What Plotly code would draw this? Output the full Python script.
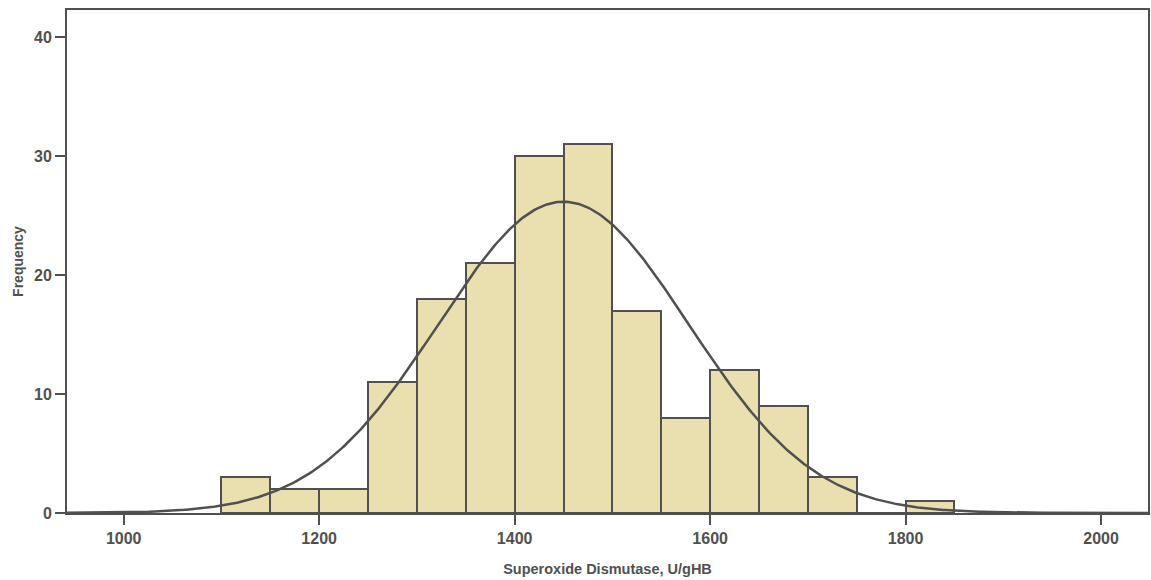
import numpy as np
import plotly.graph_objects as go

# Histogram bins (lower edges, width 50) and observed frequencies
bin_starts = [1100, 1150, 1200, 1250, 1300, 1350, 1400, 1450, 1500,
              1550, 1600, 1650, 1700, 1750, 1800]
counts = [3, 2, 2, 11, 18, 21, 30, 31, 17, 8, 12, 9, 3, 0, 1]
bin_width = 50

# Fitted normal curve parameters
curve_mean = 1450
curve_sd = 128

x_ticks = [1000, 1200, 1400, 1600, 1800, 2000]
y_ticks = [0, 10, 20, 30, 40]

centers = [s + bin_width / 2 for s in bin_starts]
n_total = sum(counts)

xs = np.linspace(940, 2050, 600)
ys = n_total * bin_width / (curve_sd * np.sqrt(2 * np.pi)) * np.exp(
    -0.5 * ((xs - curve_mean) / curve_sd) ** 2)

ink = "#505050"
font_family = "Liberation Sans, Arial, sans-serif"

fig = go.Figure()
fig.add_trace(go.Bar(
    x=centers, y=counts, width=bin_width,
    marker=dict(color="#EADFAE", line=dict(color=ink, width=2)),
    hoverinfo="x+y",
))
fig.add_trace(go.Scatter(
    x=xs, y=ys, mode="lines",
    line=dict(color=ink, width=2.5),
    hoverinfo="skip",
))

fig.update_layout(
    width=1151, height=580,
    margin=dict(l=67, r=1, t=10, b=67),
    paper_bgcolor="white", plot_bgcolor="white",
    showlegend=False, bargap=0,
    font=dict(family=font_family, color=ink),
)
fig.update_xaxes(
    range=[942, 2048], tickvals=x_ticks, ticktext=[str(v) for v in x_ticks],
    ticks="outside", ticklen=10, tickwidth=2, tickcolor=ink,
    showline=True, linecolor=ink, linewidth=2, mirror=True,
    showgrid=False, zeroline=False,
    tickfont=dict(size=16, family=font_family, color=ink, weight="bold"),
    title=dict(text="Superoxide Dismutase, U/gHB",
               font=dict(size=14.5, color=ink, family=font_family, weight="bold"),
               standoff=18),
)
fig.update_yaxes(
    range=[0, 42.3], tickvals=y_ticks, ticktext=[str(v) for v in y_ticks],
    ticks="outside", ticklen=10, tickwidth=2, tickcolor=ink,
    showline=True, linecolor=ink, linewidth=2, mirror=True,
    showgrid=False, zeroline=False,
    tickfont=dict(size=16, family=font_family, color=ink, weight="bold"),
    title=dict(text="Frequency",
               font=dict(size=14, color=ink, family=font_family, weight="bold"),
               standoff=7),
)

fig.write_html("out.html")
